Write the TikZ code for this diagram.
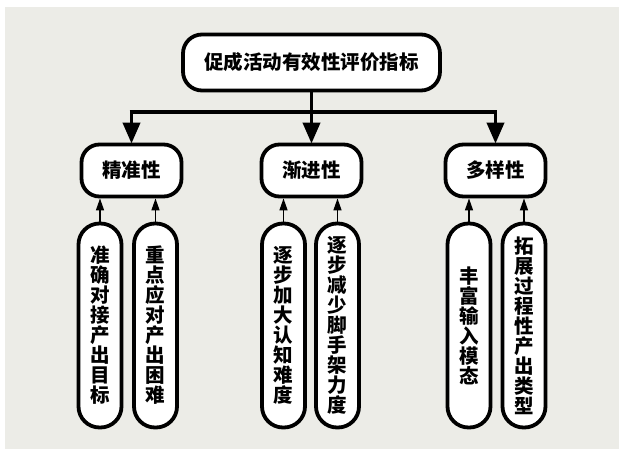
\documentclass[tikz,border=0pt]{standalone}
\usepackage{fontspec}
\newfontfamily\cjk{Noto Sans CJK SC}
\usetikzlibrary{arrows.meta}
\definecolor{bg}{RGB}{236,236,231}
\tikzset{
  box/.style={draw=black, line width=3.8pt, fill=white, inner sep=0pt, align=center,
    font=\cjk\bfseries\fontsize{19.5}{20}\selectfont},
  rootbox/.style={box, minimum width=257pt, minimum height=56pt, rounded corners=19pt},
  midbox/.style={box, minimum width=100pt, minimum height=52pt, rounded corners=18pt},
  leafbox/.style={box, minimum width=43pt, minimum height=204pt, rounded corners=21pt},
  bigarrow/.style={line width=3.8pt},
  bighead/.style={-{Triangle[length=21pt,width=17pt]}, line width=3.8pt},
  smallhead/.style={-{Triangle[length=12pt,width=8pt]}, line width=1.4pt},
}
\begin{document}
\begin{tikzpicture}[x=1pt,y=-1pt]
\useasboundingbox (0,0) rectangle (619,449);
\fill[white] (0,0) rectangle (619,449);
\fill[bg] (5,7) rectangle (619,449);

\node[rootbox] (root) at (311.5,62.5) {促成活动有效性评价指标};

\node[midbox] (b1) at (131.5,170.5) {精准性};
\node[midbox] (b2) at (311.5,170.5) {渐进性};
\node[midbox] (b3) at (495.5,170.5) {多样性};

\node[leafbox] (c1) at (100,325.5) {准\\确\\对\\接\\产\\出\\目\\标};
\node[leafbox] (c2) at (155.5,325.5) {重\\点\\应\\对\\产\\出\\困\\难};
\node[leafbox] (c3) at (283.5,325.5) {逐\\步\\加\\大\\认\\知\\难\\度};
\node[leafbox] (c4) at (337.5,325.5) {逐\\步\\减\\少\\脚\\手\\架\\力\\度};
\node[leafbox] (c5) at (469,325.5) {丰\\富\\输\\入\\模\\态};
\node[leafbox] (c6) at (524,325.5) {拓\\展\\过\\程\\性\\产\\出\\类\\型};

\coordinate (bus) at (0,112);
\draw[bigarrow] (root.south) -- (root.south |- bus);
\draw[bigarrow] ([xshift=-1.9pt]b1.north |- bus) -- ([xshift=1.9pt]b3.north |- bus);
\draw[bighead] (b1.north |- bus) -- ([yshift=-1pt]b1.north);
\draw[bighead] (b2.north |- bus) -- ([yshift=-1pt]b2.north);
\draw[bighead] (b3.north |- bus) -- ([yshift=-1pt]b3.north);

\foreach \c/\b in {c1/b1,c2/b1,c3/b2,c4/b2,c5/b3,c6/b3}{
  \draw[smallhead] (\c.north) -- (\c.north |- \b.south);
}
\end{tikzpicture}
\end{document}
